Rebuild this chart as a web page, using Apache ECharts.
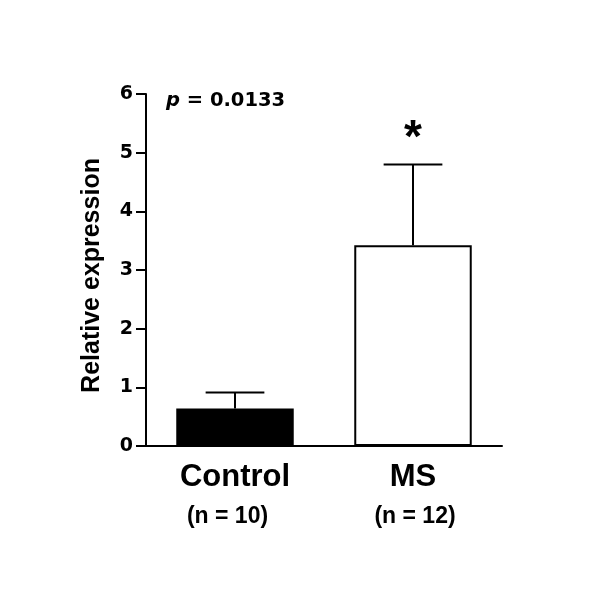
<!DOCTYPE html>
<html>
<head>
<meta charset="utf-8">
<script src="https://cdn.jsdelivr.net/npm/echarts@6/dist/echarts.min.js"></script>
<style>html,body{margin:0;padding:0;background:#fff;}#c{width:600px;height:600px;}</style>
</head>
<body>
<div id="c"></div>
<script>
const categories = ['Control', 'MS'];
const groupSizes = ['(n = 10)', '(n = 12)'];
const means = [0.64, 3.42];
const errUpper = [0.91, 4.80];
const significance = ['', '*'];
const yTicks = [0, 1, 2, 3, 4, 5, 6];
const pText = '0.0133';

const FONT = '"Liberation Sans", Arial, sans-serif';
const WIDE = '"DejaVu Sans", sans-serif';
const chart = echarts.init(document.getElementById('c'), null, {renderer: 'canvas'});

chart.setOption({
  animation: false,
  backgroundColor: '#fff',
  grid: {left: 146, right: 98, top: 94, bottom: 154, containLabel: false},
  xAxis: {
    type: 'category',
    data: categories,
    axisLine: {lineStyle: {color: '#000', width: 2}},
    axisTick: {alignWithLabel: true, length: 10, lineStyle: {color: '#000', width: 2}},
    axisLabel: {
      margin: 13,
      formatter: function (v, i) { return '{a|' + v + '}\n{b' + i + '|' + groupSizes[i] + '}'; },
      rich: {
        a: {fontFamily: FONT, fontWeight: 'bold', fontSize: 31, color: '#000', lineHeight: 37},
        b0: {fontFamily: FONT, fontWeight: 'bold', fontSize: 23, color: '#000', lineHeight: 42, padding: [0, 15, 0, 0]},
        b1: {fontFamily: FONT, fontWeight: 'bold', fontSize: 23, color: '#000', lineHeight: 42, padding: [0, 0, 0, 4]}
      }
    }
  },
  yAxis: {
    type: 'value',
    min: yTicks[0],
    max: yTicks[yTicks.length - 1],
    interval: 1,
    name: 'Relative expression',
    nameLocation: 'middle',
    nameRotate: 90,
    nameGap: 41,
    nameTextStyle: {fontFamily: FONT, fontWeight: 'bold', fontSize: 25, color: '#000', padding: [0, 11, 0, 0]},
    axisLine: {show: true, lineStyle: {color: '#000', width: 2}},
    axisTick: {show: true, length: 10, lineStyle: {color: '#000', width: 2}},
    axisLabel: {margin: 13, fontFamily: WIDE, fontWeight: 'bold', fontSize: 19, color: '#000'},
    splitLine: {show: false}
  },
  series: [
    {
      type: 'bar',
      barWidth: '66%',
      data: means.map(function (v, i) {
        return {
          value: v,
          itemStyle: i === 0
            ? {color: '#000', borderColor: '#000', borderWidth: 2}
            : {color: '#fff', borderColor: '#000', borderWidth: 2}
        };
      }),
      z: 2
    },
    {
      type: 'custom',
      z: 3,
      data: means.map(function (m, i) { return [i, m, errUpper[i]]; }),
      renderItem: function (params, api) {
        const i = api.value(0);
        const base = api.coord([i, api.value(1)]);
        const top = api.coord([i, api.value(2)]);
        const band = api.size([1, 0])[0];
        const half = band * 0.165;
        const style = {stroke: '#000', lineWidth: 2};
        const children = [
          {type: 'line', shape: {x1: base[0], y1: base[1], x2: top[0], y2: top[1]}, style: style},
          {type: 'line', shape: {x1: top[0] - half, y1: top[1], x2: top[0] + half, y2: top[1]}, style: style}
        ];
        const s = significance[params.dataIndex];
        if (s) {
          children.push({
            type: 'text',
            x: top[0], y: top[1] - 25,
            style: {text: s, fontFamily: FONT, fontWeight: 'bold', fontSize: 46, fill: '#000', align: 'center', verticalAlign: 'middle'}
          });
        }
        return {type: 'group', children: children};
      }
    }
  ],
  graphic: [
    {
      type: 'text',
      left: 166,
      top: 91,
      style: {
        text: '{i|p}{n| = ' + pText + '}',
        rich: {
          i: {fontFamily: WIDE, fontWeight: 'bold', fontStyle: 'italic', fontSize: 19.5, fill: '#000'},
          n: {fontFamily: WIDE, fontWeight: 'bold', fontSize: 19.5, fill: '#000'}
        }
      }
    }
  ]
});
</script>
</body>
</html>
